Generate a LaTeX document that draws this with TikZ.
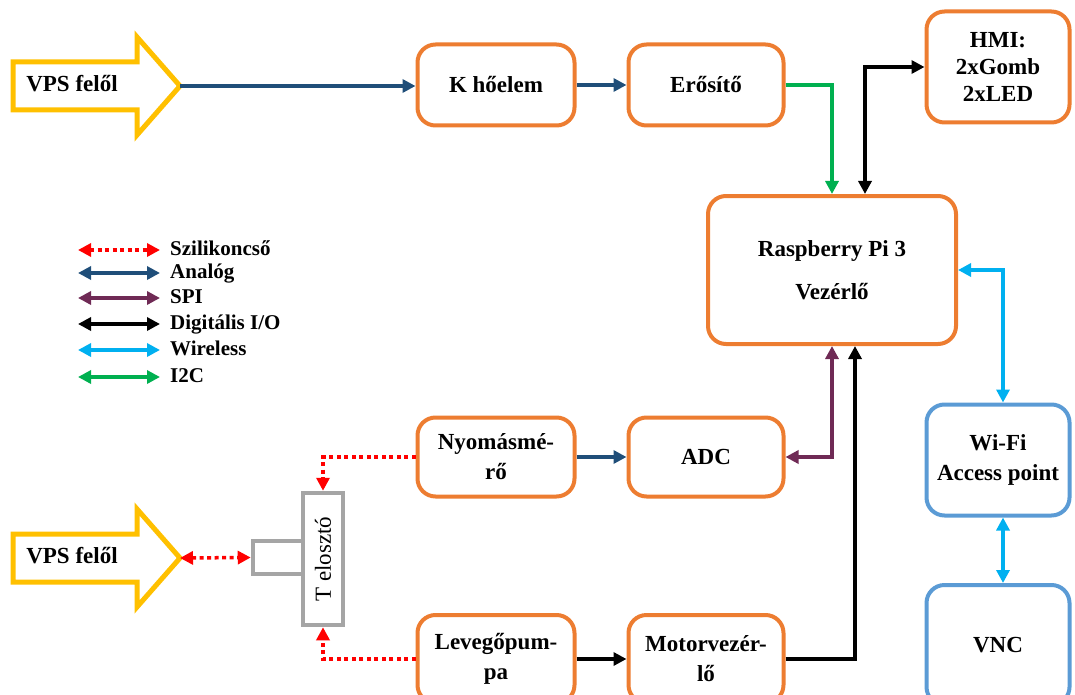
\documentclass[tikz,border=0pt]{standalone}
\usepackage{fontspec}
\setmainfont{Liberation Serif}
\usetikzlibrary{arrows.meta}
\definecolor{boxOrange}{HTML}{ED7D31}
\definecolor{boxBlue}{HTML}{5B9BD5}
\definecolor{vpsYellow}{HTML}{FFC000}
\definecolor{teeGray}{HTML}{A5A5A5}
\definecolor{analogBlue}{HTML}{1F4E79}
\definecolor{spiPurple}{HTML}{6F2A55}
\definecolor{wifiCyan}{HTML}{00B0F0}
\definecolor{i2cGreen}{HTML}{00B050}
\definecolor{silRed}{HTML}{FF0000}

\begin{document}
\begin{tikzpicture}
[x=1pt,y=-1pt,
  font=\fontsize{23}{30}\selectfont\bfseries,
  boxDecorate/.style={draw=boxOrange,line width=4pt,rounded corners=18pt,align=center,inner sep=2pt},
  wifiDecorate/.style={boxDecorate,draw=boxBlue},
  vpsDecorate/.style={draw=vpsYellow,line width=5pt,line join=miter},
  teeDecorate/.style={draw=teeGray,line width=4.5pt,inner sep=0pt},
  lineDecorate/.style={line width=3.5pt,-{Triangle[length=13pt,width=13pt]}},
  bothDecorate/.style={line width=3.5pt,{Triangle[length=13pt,width=13pt]}-{Triangle[length=13pt,width=13pt]}},
  silLine/.style={draw=silRed,dash pattern=on 4pt off 3.5pt},
  analogLine/.style={draw=analogBlue},
  spiLine/.style={draw=spiPurple},
  digLine/.style={draw=black},
  wifiLine/.style={draw=wifiCyan},
  i2cLine/.style={draw=i2cGreen}]
\useasboundingbox (0,0) rectangle (1075,695);

%% VPS input arrows
\foreach \name/\y in {vpsTop/86, vpsBot/558}
{
  \draw[vpsDecorate] (13,\y-24) -- (137,\y-24) -- (137,\y-49) -- (180,\y)
    -- (137,\y+49) -- (137,\y+24) -- (13,\y+24) -- cycle;
  \node (\name Text) at (72,\y-2) {VPS felől};
  \coordinate (\name) at (180,\y);
}

%% blocks
\foreach \nodename/\x/\y/\w/\h/\txt in {
  khoelem/496/85/157/81/{K hőelem},
  erosito/706/85/155/81/{Erősítő},
  hmi/998/67/143/111/{HMI:\\[-3pt]2xGomb\\[-3pt]2xLED},
  rpi/832/270/248/148/{Raspberry Pi 3\\[13pt]Vezérlő},
  nyomas/496/457/157/79/{Nyomásmé-\\rő},
  adc/706/457/155/79/{ADC},
  levego/496/659/157/88/{Levegőpum-\\pa},
  motor/706/659/155/88/{Motorvezér-\\lő}}
{
  \node[boxDecorate,minimum width=\w,minimum height=\h] (\nodename) at (\x,\y) {\txt};
}
\foreach \nodename/\x/\y/\w/\h/\txt in {
  wifi/998/460/143/111/{Wi-Fi\\Access point},
  vnc/998/645/143/120/{VNC}}
{
  \node[wifiDecorate,minimum width=\w,minimum height=\h] (\nodename) at (\x,\y) {\txt};
}

%% T splitter
\node[teeDecorate,minimum width=50,minimum height=33] (tstub) at (278,557.5) {};
\node[teeDecorate,fill=white,minimum width=40,minimum height=132,font=\fontsize{23}{30}\selectfont] (telo) at (323,559) {\rotatebox{90}{T elosztó}};

%% connections
\draw[lineDecorate,analogLine] (vpsTop) -- (vpsTop -| khoelem.west);
\draw[lineDecorate,analogLine] (khoelem) -- (erosito);
\draw[lineDecorate,i2cLine] (erosito.east) -| (rpi.north);
\draw[bothDecorate,digLine] ([xshift=33pt]rpi.north) |- (hmi.west);
\draw[bothDecorate,wifiLine] (rpi.east) -| ([xshift=5pt]wifi.north);
\draw[bothDecorate,wifiLine] ([xshift=5pt]wifi.south) -- ([xshift=5pt]vnc.north);
\draw[lineDecorate,analogLine] (nyomas) -- (adc);
\draw[bothDecorate,spiLine] (adc.east) -| (rpi.south);
\draw[lineDecorate,digLine] (levego) -- (motor);
\draw[lineDecorate,digLine] (motor.east) -| ([xshift=23pt]rpi.south);
\draw[lineDecorate,silLine] (nyomas.west) -| (telo.north);
\draw[lineDecorate,silLine] (levego.west) -| (telo.south);
\draw[bothDecorate,silLine] (vpsBot) -- (tstub.west);

%% legend
\foreach \i/\y/\sty/\lab in {
  1/250/silLine/Szilikoncső, 2/273/analogLine/Analóg, 3/298/spiLine/SPI,
  4/324/digLine/{Digitális I/O}, 5/350/wifiLine/Wireless, 6/377/i2cLine/I2C}
{
  \coordinate (legL\i) at (78,\y);
  \coordinate (legR\i) at (160,\y);
  \draw[bothDecorate,\sty] (legL\i) -- (legR\i);
  \node[anchor=west,inner sep=0pt,text height=14pt,text depth=4pt,
    font=\fontsize{21}{24}\selectfont\bfseries] (leg\i) at (170,\y) {\lab};
}
\end{tikzpicture}
\end{document}
